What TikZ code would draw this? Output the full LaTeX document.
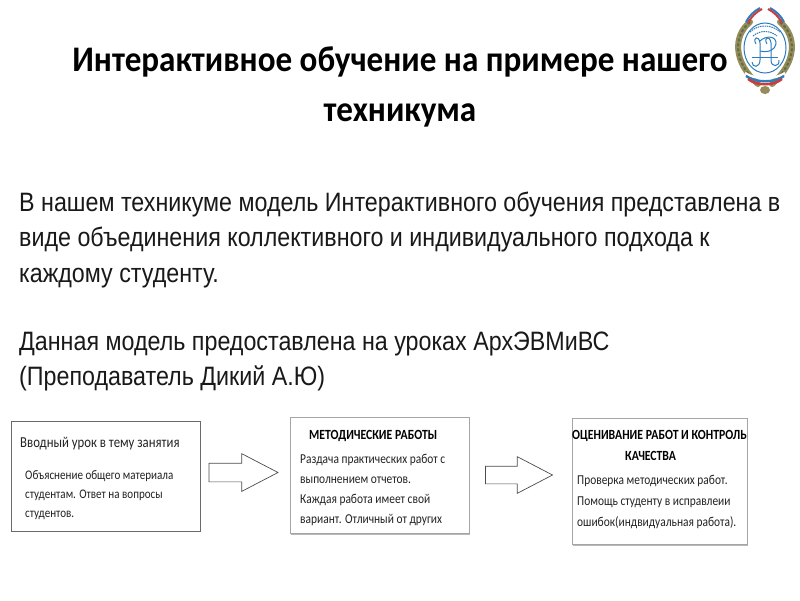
\documentclass[tikz,border=0pt]{standalone}
\usepackage{fontspec}
\setmainfont{Carlito}
\newfontfamily\titlefont[FakeStretch=0.92]{Carlito}
\newfontfamily\cardfont[FakeStretch=0.84]{Carlito}
\newfontfamily\bodyfont[FakeStretch=0.875]{Liberation Sans}
\usetikzlibrary{shapes.arrows}
\definecolor{boxline}{RGB}{105,105,105}
\definecolor{softline}{RGB}{165,165,165}
\definecolor{txt}{RGB}{35,35,35}
\definecolor{logoblue}{RGB}{45,125,190}
\definecolor{wreath}{RGB}{150,140,90}
\definecolor{leaf}{RGB}{95,110,70}
\definecolor{flagred}{RGB}{205,60,60}
\tikzset{
  x=1pt,y=-1pt,
  titletext/.style={align=center,inner sep=0pt,font=\titlefont\fontsize{36}{50}\selectfont\bfseries,text=black},
  bodytext/.style={anchor=north west,align=left,inner sep=0pt,font=\bodyfont\fontsize{26.6}{35.2}\selectfont,text=black!90},
  card/.style={draw=#1,line width=1pt,fill=white,inner sep=0pt,anchor=north west},
  cardhead/.style={anchor=north west,align=left,inner sep=0pt,text=txt,font=\cardfont\fontsize{15.2}{21}\selectfont},
  cardbold/.style={anchor=north west,align=left,inner sep=0pt,text=black,font=\cardfont\fontsize{14}{21}\selectfont\bfseries},
  cardtext/.style={anchor=north west,align=left,inner sep=0pt,text=txt,font=\cardfont\fontsize{13.6}{#1}\selectfont},
  cardtextsmall/.style={anchor=north west,align=left,inner sep=0pt,text=txt,font=\cardfont\fontsize{13.15}{#1}\selectfont},
  blockarrow/.style={shape=single arrow,draw=black!70,line width=0.7pt,fill=white,inner sep=0pt,single arrow tip angle=55,anchor=center},
}
\begin{document}
\begin{tikzpicture}
\useasboundingbox (0,0) rectangle (800,600);
\fill[white] (0,0) rectangle (800,600);
\node[titletext] (title) at (400,87) {Интерактивное обучение на примере нашего\\техникума};
\node[bodytext] (intro) at (19,192) {В нашем техникуме модель Интерактивного обучения представлена в\\виде объединения коллективного и индивидуального подхода к\\каждому студенту.\\[33pt]Данная модель предоставлена на уроках АрхЭВМиВС\\(Преподаватель Дикий А.Ю)};
% cards
\fill[black!28] (291,531) rectangle (470,534.5);
\fill[black!28] (573,542) rectangle (748,545.5);
\node[card=boxline,minimum width=189,minimum height=110] (cardA) at (11,421) {};
\node[card=softline,minimum width=179,minimum height=116] (cardB) at (290,417) {};
\node[card=softline,minimum width=175,minimum height=126] (cardC) at (572,418) {};
% arrows
\node[blockarrow,minimum height=69,single arrow head extend=9.5] (arrowA) at (234.5,472.5) {\rule{0pt}{18pt}};
\node[blockarrow,minimum height=67,single arrow head extend=9.5] (arrowB) at (510.5,475) {\rule{0pt}{17pt}};
% card texts
\node[cardhead] (headA) at (20,437) {Вводный урок в тему занятия};
\node[cardtextsmall=19] (textA) at (25,470) {Объяснение общего материала\\студентам. Ответ на вопросы\\студентов.};
\node[cardbold] (headB) at (309,430) {МЕТОДИЧЕСКИЕ РАБОТЫ};
\node[cardtext=20] (textB) at (300,454) {Раздача практических работ с\\выполнением отчетов.\\Каждая работа имеет свой\\вариант. Отличный от других};
\node[cardbold] (headC) at (572,430) {ОЦЕНИВАНИЕ РАБОТ И КОНТРОЛЬ\\\hspace*{53pt}КАЧЕСТВА};
\node[cardtext=21] (textC) at (577,475) {Проверка методических работ.\\Помощь студенту в исправлеии\\ошибок(индвидуальная работа).};
% emblem
\begin{scope}
  \draw[wreath,line width=6pt,line cap=round] (750,22) .. controls (733,36) and (733,62) .. (758,84);
  \draw[wreath,line width=6pt,line cap=round] (780,22) .. controls (797,36) and (797,62) .. (772,84);
  \draw[leaf,line width=2pt,dash pattern=on 3pt off 2pt] (750,22) .. controls (733,36) and (733,62) .. (758,84);
  \draw[leaf,line width=2pt,dash pattern=on 3pt off 2pt] (780,22) .. controls (797,36) and (797,62) .. (772,84);
  \draw[white,line width=2pt] (758,7) .. controls (752,10) and (747,15) .. (744,21);
  \draw[logoblue,line width=2pt] (760,8) .. controls (754,11) and (749,16) .. (746,22);
  \draw[flagred,line width=2pt] (762,9) .. controls (756,12) and (751,17) .. (748,23);
  \draw[white,line width=2pt] (772,7) .. controls (778,10) and (783,15) .. (786,21);
  \draw[logoblue,line width=2pt] (770,8) .. controls (776,11) and (781,16) .. (784,22);
  \draw[flagred,line width=2pt] (768,9) .. controls (774,12) and (779,17) .. (782,23);
  \fill[white] (765,48) ellipse (21 and 25);
  \draw[logoblue,line width=1pt] (765,48) ellipse (21 and 25);
  \draw[logoblue,line width=1pt,dash pattern=on 1.5pt off .8pt] (750,32) .. controls (758,24) and (772,24) .. (780,32);
  \draw[logoblue,line width=1pt,dash pattern=on 1.5pt off .8pt] (753,36) .. controls (760,30) and (770,30) .. (777,36);
  \draw[logoblue,line width=1pt] (756,44) .. controls (752,37) and (759,35) .. (760,43) -- (760,60) .. controls (760,68) and (752,68) .. (752,62);
  \draw[logoblue,line width=1pt] (767,44) .. controls (763,37) and (770,35) .. (771,43) -- (771,60) .. controls (771,68) and (780,67) .. (779,60);
  \draw[logoblue,line width=1pt] (760,41) .. controls (766,35) and (777,36) .. (776,44) .. controls (775,50) and (768,53) .. (760,51);
  \draw[logoblue,line width=.8pt] (752,57) -- (778,57);
  \draw[white,line width=2.4pt] (745,73) .. controls (755,80) and (775,80) .. (785,73);
  \draw[logoblue,line width=2.4pt] (746,76) .. controls (755,83) and (775,83) .. (784,76);
  \draw[flagred,line width=2.4pt] (748,79) .. controls (756,86) and (774,86) .. (782,79);
  \fill[wreath] (765,90) ellipse (5 and 4);
\end{scope}
\end{tikzpicture}
\end{document}
